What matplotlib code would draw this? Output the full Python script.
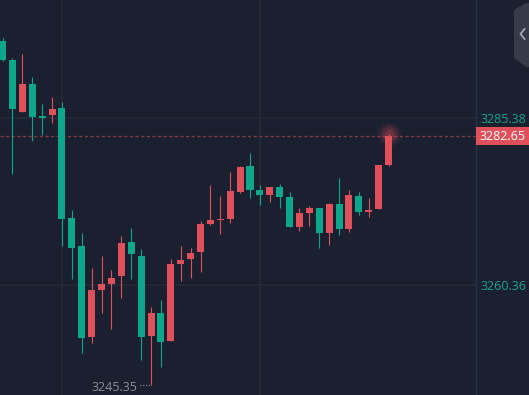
import numpy as np
import matplotlib
matplotlib.use("Agg")
import matplotlib.pyplot as plt
from matplotlib.patches import Polygon, Rectangle
from matplotlib.lines import Line2D

# candle data (red = up, green = down)
opens = [3296.92, 3294.07, 3286.32, 3290.47, 3285.52, 3285.87, 3286.88, 3270.40, 3266.20, 3252.61,
         3259.66, 3260.55, 3261.75, 3266.80, 3264.70, 3252.76, 3256.17, 3252.01, 3263.55, 3264.30,
         3265.35, 3269.54, 3270.15, 3270.29, 3274.34, 3278.19, 3274.59, 3273.84, 3275.04, 3273.54,
         3269.09, 3271.19, 3271.90, 3268.20, 3272.50, 3268.79, 3273.69, 3271.34, 3271.79, 3278.30]
highs = [3297.37, 3294.37, 3294.97, 3291.52, 3287.48, 3288.53, 3287.78, 3271.60, 3268.15, 3262.91,
         3264.70, 3262.61, 3267.70, 3268.90, 3265.75, 3257.06, 3258.11, 3264.26, 3266.20, 3265.90,
         3269.95, 3275.34, 3273.69, 3277.29, 3278.19, 3280.14, 3275.34, 3275.04, 3275.49, 3274.29,
         3271.90, 3272.20, 3271.90, 3272.65, 3276.39, 3274.59, 3274.29, 3273.39, 3278.34, 3283.00]
lows = [3293.92, 3277.04, 3286.32, 3281.98, 3282.88, 3284.68, 3266.25, 3261.30, 3250.22, 3251.72,
        3256.21, 3253.81, 3258.46, 3261.30, 3249.17, 3245.35, 3248.12, 3251.90, 3261.00, 3261.45,
        3262.35, 3269.39, 3268.05, 3269.69, 3274.19, 3273.44, 3272.39, 3272.84, 3271.94, 3269.09,
        3268.50, 3269.24, 3265.95, 3266.40, 3267.90, 3268.35, 3270.89, 3270.59, 3271.79, 3278.23]
closes = [3294.07, 3286.77, 3290.47, 3285.57, 3285.45, 3286.73, 3270.29, 3265.95, 3252.46, 3259.61,
          3260.51, 3261.41, 3266.65, 3265.05, 3252.61, 3256.17, 3251.87, 3263.51, 3264.11, 3265.15,
          3269.50, 3270.10, 3270.25, 3274.44, 3278.04, 3274.59, 3273.84, 3275.04, 3273.54, 3269.09,
          3271.15, 3271.90, 3268.20, 3272.50, 3268.79, 3273.84, 3271.34, 3271.64, 3278.34, 3282.65]

grid_prices = [3260.36, 3285.38]
last_price = 3282.65
low_price = 3245.35
low_idx = 15

BG = "#1b2030"
UP = "#e0505b"
DOWN = "#0ca68a"
GRID = "#242a37"
LABEL = "#17a488"

def main():
    W, H = 529, 395
    fig = plt.figure(figsize=(W / 100, H / 100), dpi=100, facecolor=BG)
    ax = fig.add_axes([0, 0, 476 / W, 1])
    ax.set_facecolor(BG)

    x = np.arange(len(opens))
    o = np.array(opens); c = np.array(closes)
    hi = np.array(highs); lo = np.array(lows)
    up = c >= o
    cols = np.where(up, UP, DOWN)
    bottom = np.minimum(o, c)
    height = np.maximum(np.abs(c - o), 0.16)

    ax.vlines(x, lo, hi, colors=cols, linewidth=0.8, zorder=3)
    ax.bar(x, height, bottom=bottom, width=0.71, color=cols, linewidth=0, zorder=4)

    ax.set_xlim(-0.263, 47.84)
    ax.set_ylim(3243.88, 3303.06)

    # grid
    ax.set_xticks([6, 26])
    ax.set_yticks(grid_prices)
    ax.grid(True, color=GRID, linewidth=1.2)
    ax.set_axisbelow(True)
    ax.tick_params(axis="x", length=0, labelbottom=False)
    ax.yaxis.tick_right()
    ax.tick_params(axis="y", length=0, pad=3, labelcolor=LABEL, labelsize=9)
    for lab in ax.get_yticklabels():
        lab.set_fontfamily("Open Sans")
    for s in ["top", "bottom", "left"]:
        ax.spines[s].set_visible(False)
    ax.spines["right"].set_color("#283041")
    ax.spines["right"].set_linewidth(1)

    # current price line
    ax.axhline(last_price, color="#8c3a46", linewidth=0.9, dashes=(2.5, 2), zorder=2)

    # glow on last candle
    for s, a in [(300, 0.07), (190, 0.1), (110, 0.14), (45, 0.22)]:
        ax.scatter([x[-1]], [highs[-1]], s=s, color=UP, alpha=a, linewidths=0, zorder=5)

    # low marker
    ax.text(low_idx - 1.4, low_price - 0.35, "3245.35", ha="right", va="center",
            color="#8b8f99", fontsize=9, family="Open Sans")
    ax.plot([low_idx - 1.1, low_idx - 0.1], [low_price + 0.1, low_price + 0.1],
            color="#8b8f99", linewidth=0.8, linestyle=(0, (1, 1.5)))

    # price box on right axis
    fig.patches.append(Rectangle((476 / W, (H - 145) / H), 53 / W, 18 / H,
                                 transform=fig.transFigure, facecolor=UP, edgecolor="none"))
    fig.text(502.5 / W, (H - 136) / H, f"{last_price:.2f}", ha="center", va="center",
             color="white", fontsize=9, family="Open Sans")

    # collapse tab at top right
    tab = [(529, 3), (526, 3), (514, 10), (514, 58), (526, 67), (529, 67)]
    fig.patches.append(Polygon([(px / W, (H - py) / H) for px, py in tab],
                               closed=True, transform=fig.transFigure,
                               facecolor="#363b47", edgecolor="none"))
    chev = [(524.5, 29), (520.5, 34), (524.5, 39)]
    fig.lines.append(Line2D([p[0] / W for p in chev], [(H - p[1]) / H for p in chev],
                            transform=fig.transFigure, color="#a3a7b0", linewidth=1.3))

    fig.savefig("out.png", dpi=100, facecolor=BG)

if __name__ == "__main__":
    main()
